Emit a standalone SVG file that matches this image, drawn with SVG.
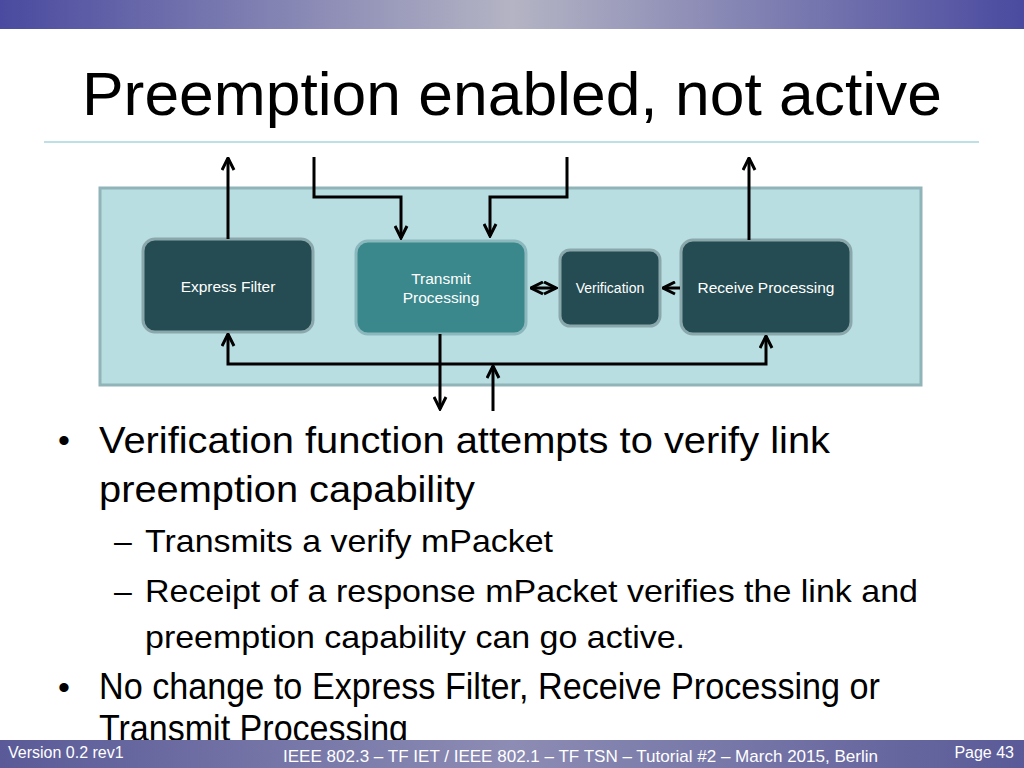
<svg xmlns="http://www.w3.org/2000/svg" width="1024" height="768" viewBox="0 0 1024 768">
<defs>
<linearGradient id="tb" x1="0" x2="1" y1="0" y2="0">
<stop offset="0" stop-color="#4a4aa0"/><stop offset="0.5" stop-color="#b4b4c4"/><stop offset="1" stop-color="#4a4aa0"/>
</linearGradient>
<linearGradient id="bb" x1="0" x2="1" y1="0" y2="0">
<stop offset="0" stop-color="#5a5a98"/><stop offset="0.5" stop-color="#8c8cb4"/><stop offset="1" stop-color="#5a5a98"/>
</linearGradient>
<marker id="ah" viewBox="0 0 10 10" refX="9" refY="5" markerWidth="5" markerHeight="5" orient="auto-start-reverse">
<path d="M1,1 L9,5 L1,9" fill="none" stroke="#000" stroke-width="2"/>
</marker>
<style>
.dk{fill:#244c52;stroke:#8aa8ac;stroke-width:3}
.lt{fill:#3a888c;stroke:#8ab8bc;stroke-width:3}
.bt{fill:#fff;font-family:"Liberation Sans",Arial,sans-serif;text-anchor:middle}
.c{fill:none;stroke:#000;stroke-width:3;marker-end:url(#ah)}
.b{font-family:"Liberation Sans",Arial,sans-serif;fill:#000}
</style>
</defs>
<rect width="1024" height="768" fill="#fff"/>
<rect x="0" y="0" width="1024" height="29" fill="url(#tb)"/>
<text x="82" y="115" class="b" font-size="62" textLength="860" lengthAdjust="spacingAndGlyphs">Preemption enabled, not active</text>
<line x1="44" y1="142" x2="979" y2="142" stroke="#a8d4dc" stroke-width="1.5"/>
<rect x="100" y="188" width="821" height="197" fill="#b8dee2" stroke="#90b4b8" stroke-width="3"/>
<g id="express"><rect class="dk" x="143" y="239" width="170" height="93" rx="12"/><text class="bt" x="228" y="292" font-size="15.5">Express Filter</text></g>
<g id="transmit"><rect class="lt" x="356" y="241" width="170" height="93" rx="12"/><text class="bt" x="441" y="284" font-size="15.5">Transmit</text><text class="bt" x="441" y="303" font-size="15.5">Processing</text></g>
<g id="verification"><rect class="dk" x="560" y="250" width="100" height="76" rx="10"/><text class="bt" x="610" y="293" font-size="14">Verification</text></g>
<g id="receive"><rect class="dk" x="681" y="240" width="170" height="94" rx="12"/><text class="bt" x="766" y="293" font-size="15.5">Receive Processing</text></g>
<g id="connectors">
<path class="c" d="M228,239 V158"/>
<path class="c" d="M314,157 V197 H401 V238"/>
<path class="c" d="M567,157 V197 H490 V236"/>
<path class="c" d="M749,240 V158"/>
<path class="c" d="M440,334 V409"/>
<path class="c" d="M493,411 V366"/>
<path class="c" d="M497,364 H766 V336"/>
<path class="c" d="M497,364 H228 V334"/>
<path class="c" d="M531,288 H556" style="marker-start:url(#ah)"/>
<path class="c" d="M680,288 H663"/>
</g>
<g class="b" lengthAdjust="spacingAndGlyphs">
<text x="58" y="452" font-size="34">•</text>
<text x="99" y="453" font-size="37" textLength="731" lengthAdjust="spacingAndGlyphs">Verification function attempts to verify link</text>
<text x="99" y="502" font-size="37" textLength="376" lengthAdjust="spacingAndGlyphs">preemption capability</text>
<text x="114" y="552" font-size="32">–</text>
<text x="145" y="552" font-size="32" textLength="408" lengthAdjust="spacingAndGlyphs">Transmits a verify mPacket</text>
<text x="114" y="602" font-size="32">–</text>
<text x="145" y="602" font-size="32" textLength="773" lengthAdjust="spacingAndGlyphs">Receipt of a response mPacket verifies the link and</text>
<text x="145" y="648" font-size="32" textLength="540" lengthAdjust="spacingAndGlyphs">preemption capability can go active.</text>
<text x="58" y="699" font-size="34">•</text>
<text x="99" y="699" font-size="37" textLength="781" lengthAdjust="spacingAndGlyphs">No change to Express Filter, Receive Processing or</text>
<text x="99" y="741" font-size="37" textLength="309" lengthAdjust="spacingAndGlyphs">Transmit Processing</text>
</g>
<rect x="0" y="740" width="1024" height="28" fill="url(#bb)"/>
<g font-family="Liberation Sans,Arial,sans-serif" fill="#fff">
<text x="8" y="758" font-size="16">Version 0.2 rev1</text>
<text x="283" y="762" font-size="17" textLength="595" lengthAdjust="spacingAndGlyphs">IEEE 802.3 – TF IET / IEEE 802.1 – TF TSN – Tutorial #2 – March 2015, Berlin</text>
<text x="1014" y="758" font-size="16" text-anchor="end">Page 43</text>
</g>
</svg>
